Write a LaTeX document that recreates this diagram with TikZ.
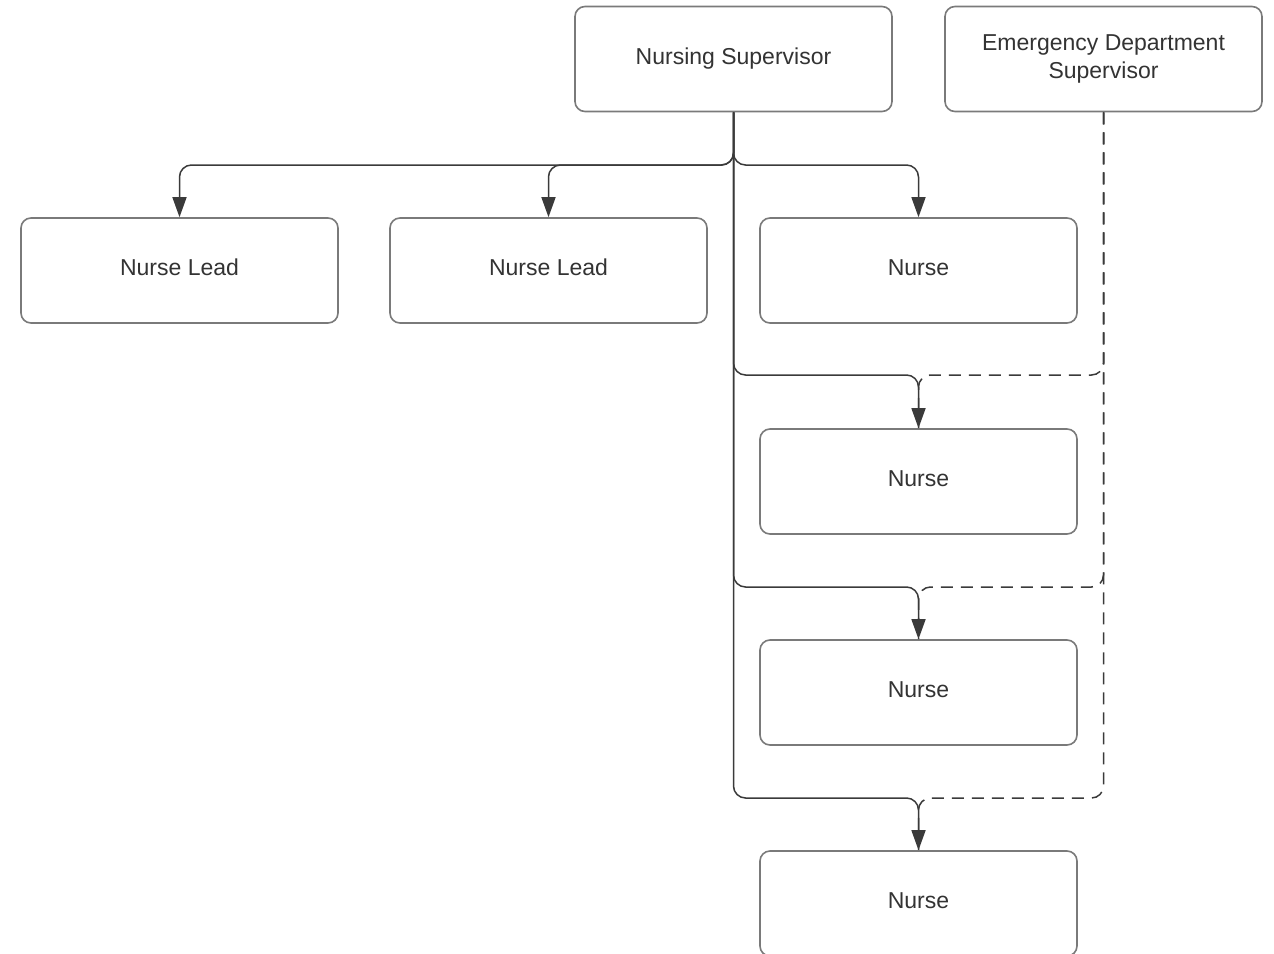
\documentclass[tikz,border=0pt]{standalone}
\usepackage{fontspec}
\setmainfont{Liberation Sans}
\usetikzlibrary{arrows.meta}

\definecolor{boxline}{HTML}{7A7A7A}
\definecolor{wireline}{HTML}{3A3A3A}
\definecolor{boxtext}{HTML}{333333}

\tikzset{
  post/.style={draw=boxline,line width=.8pt,rounded corners=5pt,fill=white,
    minimum width=158.5pt,minimum height=52.5pt,inner sep=0pt,
    text height=8pt,text depth=3pt,
    text=boxtext,align=center,font=\fontsize{11.5}{14}\selectfont},
  wide post/.style={post,text height=,text depth=},
  wire/.style={draw=wireline,line width=.75pt,rounded corners=6pt},
  report/.style={wire,-{Triangle[length=10pt,width=7pt]}},
  dotted report/.style={wire,dash pattern=on 6pt off 4pt}
}

\begin{document}
\begin{tikzpicture}[x=.5pt,y=-.5pt]
    \useasboundingbox (0,0) rectangle (1274,953);
    \clip (0,0) rectangle (1274,953);

    %% supervisors
    \node[post] (ns)  at (733.5,59)  {Nursing Supervisor};
    \node[wide post] (eds) at (1103.5,59) {Emergency Department\\Supervisor};

    %% first row
    \node[post] (lead1)  at (179.5,270.5) {Nurse Lead};
    \node[post] (lead2)  at (548.5,270.5) {Nurse Lead};
    \node[post] (nurse1) at (918.5,270.5) {Nurse};

    %% nurse column
    \node[post] (nurse2) at (918.5,481.5) {Nurse};
    \node[post] (nurse3) at (918.5,692.5) {Nurse};
    \node[post] (nurse4) at (918.5,903.5) {Nurse};

    %% bends
    \coordinate (bus0) at (733.5,165);
    \coordinate (bus1) at (733.5,375);
    \coordinate (bus2) at (733.5,587);
    \coordinate (bus3) at (733.5,798);
    \coordinate (ebus1) at (1103.5,375);
    \coordinate (ebus2) at (1103.5,587);
    \coordinate (ebus3) at (1103.5,798);

    %% dashed lines from the ED supervisor
    \draw[dotted report] (eds.south) -- (ebus1) -| (nurse2.north);
    \draw[dotted report] (eds.south) -- (ebus2) -| (nurse3.north);
    \draw[dotted report] (eds.south) -- (ebus3) -| (nurse4.north);

    %% solid lines from the nursing supervisor
    \draw[report] (ns.south) -- (bus0) -| (lead1.north);
    \draw[report] (ns.south) -- (bus0) -| (lead2.north);
    \draw[report] (ns.south) -- (bus0) -| (nurse1.north);
    \draw[report] (ns.south) -- (bus1) -| (nurse2.north);
    \draw[report] (ns.south) -- (bus2) -| (nurse3.north);
    \draw[report] (ns.south) -- (bus3) -| (nurse4.north);
\end{tikzpicture}
\end{document}
